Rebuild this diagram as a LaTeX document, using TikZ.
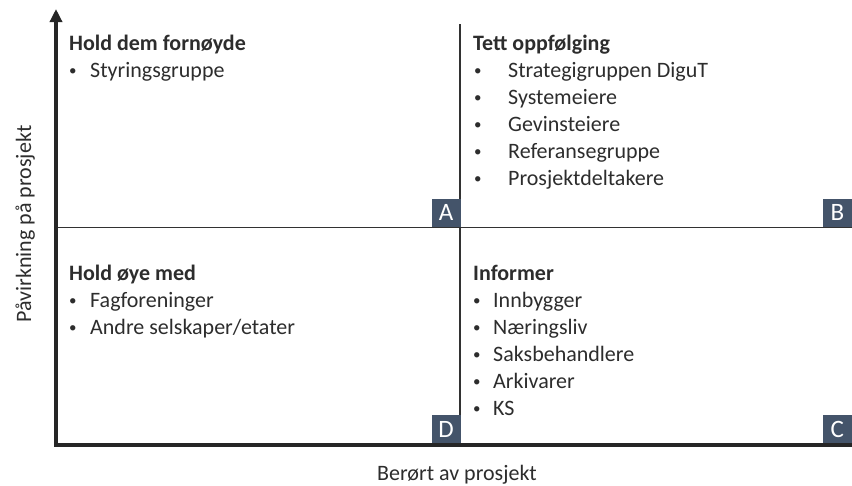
\documentclass[tikz,border=0pt]{standalone}
\usepackage{fontspec}
\setmainfont{Carlito}
\usetikzlibrary{arrows.meta}
\definecolor{txt}{RGB}{45,45,45}
\definecolor{axiscol}{RGB}{38,38,38}
\definecolor{divcol}{RGB}{50,50,50}
\definecolor{tagcol}{RGB}{68,84,106}
\newcommand{\bul}[1]{\makebox[#1][l]{\raisebox{1.6pt}{\fontsize{15}{15}\selectfont•}}}
\begin{document}
\begin{tikzpicture}[x=1pt,y=-1pt,
  head/.style={anchor=base west,inner sep=0pt,font=\fontsize{22}{26}\selectfont\bfseries,text=txt},
  item/.style={anchor=base west,inner sep=0pt,font=\fontsize{22}{26}\selectfont,text=txt},
  axlabel/.style={anchor=base,inner sep=0pt,font=\fontsize{22}{26}\selectfont,text=txt},
  tagbox/.style={fill=tagcol,text=white,minimum width=29pt,minimum height=28pt,inner sep=0pt,font=\fontsize{25}{25}\selectfont},
  axisline/.style={draw=axiscol,line width=3.5pt},
  divider/.style={draw=divcol,line width=1.6pt}]
\useasboundingbox (0,0) rectangle (852,485);
\fill[white] (0,0) rectangle (852,485);
% coordinates
\coordinate (O) at (56,445);
\coordinate (Ytop) at (56,9);
\coordinate (Xend) at (852,445);
\coordinate (Mleft) at (56,227.5);
\coordinate (Mright) at (852,227.5);
\coordinate (Vtop) at (460,24);
\coordinate (Vbot) at (460,445);
% lines
\draw[divider] (Mleft) -- (Mright);
\draw[divider] (Vtop) -- (Vbot);
\draw[axisline,{Triangle[width=12pt,length=13pt]}-] (Ytop) -- (O) -- (Xend);
% tags
\node[tagbox,anchor=south east] (tA) at (460.8,227) {A};
\node[tagbox,anchor=south east] (tB) at (852,227) {B};
\node[tagbox,anchor=south east] (tD) at (460.8,443.3) {D};
\node[tagbox,anchor=south east] (tC) at (852,443.3) {C};
% quadrant A
\node[head] (hA) at (69,50) {Hold dem fornøyde};
\node[item] (a1) at (69,77) {\bul{21pt}Styringsgruppe};
% quadrant B
\node[head] (hB) at (473,50) {Tett oppfølging};
\node[item] (b1) at (474,77) {\bul{34pt}Strategigruppen DiguT};
\node[item] (b2) at (474,104) {\bul{34pt}Systemeiere};
\node[item] (b3) at (474,131) {\bul{34pt}Gevinsteiere};
\node[item] (b4) at (474,158) {\bul{34pt}Referansegruppe};
\node[item] (b5) at (474,185) {\bul{34pt}Prosjektdeltakere};
% quadrant D
\node[head] (hD) at (69,280) {Hold øye med};
\node[item] (d1) at (69,307) {\bul{21pt}Fagforeninger};
\node[item] (d2) at (69,334) {\bul{21pt}Andre selskaper/etater};
% quadrant C
\node[head] (hC) at (473,280) {Informer};
\node[item] (c1) at (473,307) {\bul{20pt}Innbygger};
\node[item] (c2) at (473,334) {\bul{20pt}Næringsliv};
\node[item] (c3) at (473,361) {\bul{20pt}Saksbehandlere};
\node[item] (c4) at (473,388) {\bul{20pt}Arkivarer};
\node[item] (c5) at (473,415) {\bul{20pt}KS};
% axis labels
\node[axlabel] (xl) at (457,480) {Berørt av prosjekt};
\node[axlabel,rotate=90] (yl) at (31,224) {Påvirkning på prosjekt};
\end{tikzpicture}
\end{document}
